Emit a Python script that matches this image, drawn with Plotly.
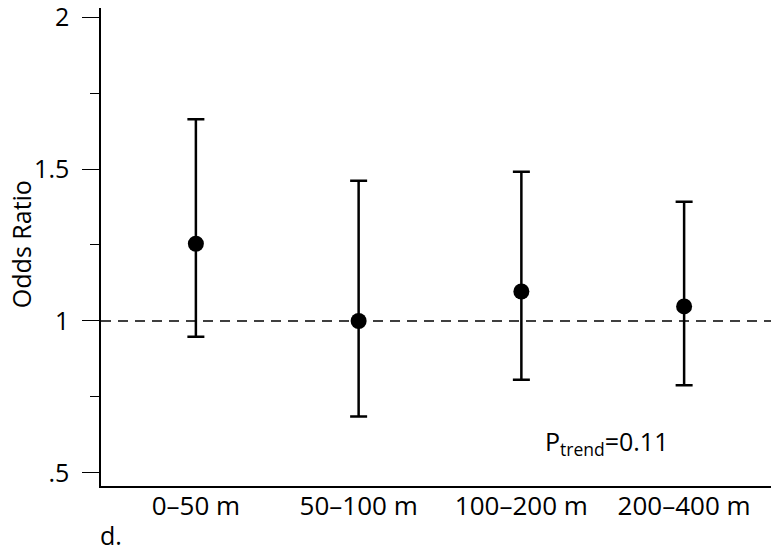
import plotly.graph_objects as go

# distance bands and odds ratios with 95% CI
bands = ["0\u201350 m", "50\u2013100 m", "100\u2013200 m", "200\u2013400 m"]
odds = [1.254, 1.0, 1.097, 1.048]
ci_low = [0.948, 0.686, 0.807, 0.789]
ci_high = [1.664, 1.461, 1.491, 1.392]

ytick_vals = [0.5, 1, 1.5, 2]
ytick_text = [".5", "1", "1.5", "2"]
ptrend = "P<sub>trend</sub>=0.11"
panel = "d."

FONT = "Open Sans"

fig = go.Figure()
fig.add_trace(go.Scatter(
    x=bands, y=odds, mode="markers",
    marker=dict(size=16, color="black"),
    error_y=dict(
        type="data", symmetric=False,
        array=[h - o for h, o in zip(ci_high, odds)],
        arrayminus=[o - l for o, l in zip(odds, ci_low)],
        color="black", thickness=2.5, width=8.5,
    ),
    showlegend=False,
))

# reference line at OR = 1
fig.add_shape(type="line", xref="paper", x0=0, x1=1, yref="y", y0=1, y1=1,
              line=dict(color="black", width=1.5, dash="10px,7px"), layer="below")

# page body has an 8px margin, so the figure is a bit smaller than the window
fig.update_layout(
    width=771, height=537,
    margin=dict(l=93, r=0, t=0, b=59),
    plot_bgcolor="white", paper_bgcolor="white",
    font=dict(family=FONT, size=25, color="black"),
    xaxis=dict(
        range=[-0.583, 3.583], showline=True, linecolor="black", linewidth=1.5,
        ticks="", showgrid=False, zeroline=False, automargin=False,
        ticklabelstandoff=-4, tickfont=dict(size=26),
    ),
    yaxis=dict(
        range=[0.4572, 2.0296], showline=True, linecolor="black", linewidth=1.5,
        tickvals=ytick_vals, ticktext=ytick_text, ticklabeloverflow="allow",
        ticks="outside", ticklen=17, tickwidth=1.2, tickcolor="black",
        ticklabelstandoff=8, automargin=False,
        showgrid=False, zeroline=False, tickfont=dict(size=25),
        minor=dict(tickvals=[0.75, 1.25, 1.75], ticks="outside", ticklen=9,
                   tickwidth=1.2, tickcolor="black", showgrid=False),
    ),
    annotations=[
        dict(text="Odds Ratio", textangle=-90, xref="paper", yref="paper",
             x=-0.118, y=0.506, xanchor="center", yanchor="middle",
             showarrow=False, font=dict(size=25)),
        dict(text=ptrend, xref="paper", yref="paper",
             x=0.652, y=0.092, xanchor="left", yanchor="middle",
             showarrow=False, font=dict(size=25)),
        dict(text=panel, xref="paper", yref="paper",
             x=-0.004, y=-0.0628, xanchor="left", yanchor="top",
             showarrow=False, font=dict(size=25)),
    ],
)

fig.write_html("out.html")
